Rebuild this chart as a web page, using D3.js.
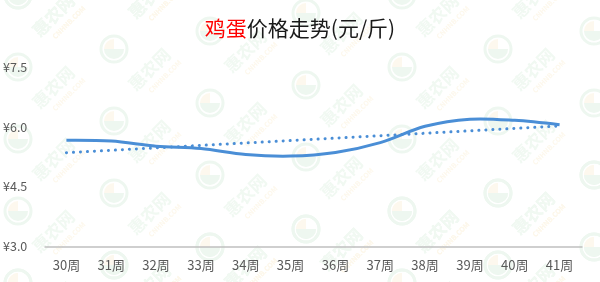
<!DOCTYPE html>
<html>
<head>
<meta charset="utf-8">
<script src="https://cdn.jsdelivr.net/npm/d3@7"></script>
<style>
  body { margin: 0; background: #fff; }
  svg { display: block; font-family: "Noto Sans CJK SC", "Noto Sans", sans-serif; }
</style>
</head>
<body>
<div id="chart"></div>
<script>
const width = 600, height = 282;

// weeks and egg prices (yuan / jin)
const weeks = ["30周", "31周", "32周", "33周", "34周", "35周", "36周", "37周", "38周", "39周", "40周", "41周"];
const prices = [5.68, 5.66, 5.53, 5.47, 5.32, 5.28, 5.37, 5.62, 6.03, 6.21, 6.18, 6.07];
const yTicks = [3.0, 4.5, 6.0, 7.5];

const svg = d3.select("#chart")
  .append("svg")
  .attr("width", width)
  .attr("height", height);

// faint site watermark, tiled over the whole picture like the source image
const wm = svg.append("g").attr("opacity", 0.5);
for (let c = -1; c < 8; c++) {
  for (let r = -1; r < 6; r++) {
    const x = 18 + 96 * c;
    const y = ((35 - 18 * c + 72 * r) % 360 + 360) % 360 - 40;
    const logo = wm.append("g").attr("transform", `translate(${x},${y})`);
    logo.append("circle").attr("r", 13).attr("fill", "none").attr("stroke", "#dcefe0").attr("stroke-width", 3);
    logo.append("path").attr("d", d3.arc()({innerRadius: 0, outerRadius: 10, startAngle: Math.PI / 2, endAngle: Math.PI * 1.5})).attr("fill", "#dcefe0");
    logo.append("path").attr("d", d3.arc()({innerRadius: 0, outerRadius: 10, startAngle: -Math.PI / 2, endAngle: 0})).attr("fill", "#fbf1dc");
    const t = wm.append("g").attr("transform", `translate(${x + 40},${y + 25}) rotate(-45)`);
    t.append("text").attr("text-anchor", "middle").attr("font-size", 17).attr("font-weight", "bold").attr("fill", "#e2f2e5").text("惠农网");
    t.append("text").attr("y", 12).attr("x", 6).attr("text-anchor", "middle").attr("font-size", 7).attr("font-weight", "bold").attr("fill", "#fbf0d8").text("CNHNB.COM");
  }
}

const xScale = d3.scaleBand()
  .domain(weeks)
  .range([44, 582]);

const yScale = d3.scaleLinear()
  .domain([3, 7.5])
  .range([246.5, 68]);

// title
const title = svg.append("text")
  .attr("x", 300)
  .attr("y", 36)
  .attr("text-anchor", "middle")
  .attr("font-size", 21)
  .attr("fill", "#1a1a1a");
title.append("tspan").attr("fill", "#ff0000").text("鸡蛋");
title.append("tspan").text("价格走势(元/斤)");

// y labels
svg.append("g")
  .selectAll("text")
  .data(yTicks)
  .enter()
  .append("text")
    .attr("x", 3)
    .attr("y", d => yScale(d))
    .attr("dy", "0.35em")
    .attr("font-size", 12.5)
    .attr("fill", "#595959")
    .text(d => "¥" + d.toFixed(1));

// x axis
const xAxis = svg.append("g")
  .attr("transform", `translate(0,${yScale(3)})`)
  .call(d3.axisBottom(xScale).tickSize(0).tickPadding(14));
xAxis.select(".domain").attr("stroke", "#bfbfbf").attr("stroke-width", 1.5);
xAxis.selectAll("text")
  .attr("font-size", 13)
  .attr("fill", "#595959")
  .attr("font-family", "\"Noto Sans CJK SC\", sans-serif");

const cx = (d, i) => xScale(weeks[i]) + xScale.bandwidth() / 2;

// linear trend
const n = prices.length;
const mx = (n - 1) / 2;
const my = d3.mean(prices);
const slope = d3.sum(prices, (p, i) => (i - mx) * (p - my)) / d3.sum(prices, (p, i) => (i - mx) * (i - mx));
const trend = [0, n - 1].map(i => ({i: i, v: my + slope * (i - mx)}));

svg.append("path")
  .datum(trend)
  .attr("fill", "none")
  .attr("stroke", "#4a8ed6")
  .attr("stroke-width", 3)
  .attr("stroke-linecap", "round")
  .attr("stroke-dasharray", "0.1 6.9")
  .attr("d", d3.line().x(d => xScale(weeks[d.i]) + xScale.bandwidth() / 2).y(d => yScale(d.v)));

// price line
svg.append("path")
  .datum(prices)
  .attr("fill", "none")
  .attr("stroke", "#4a8ed6")
  .attr("stroke-width", 3)
  .attr("stroke-linejoin", "round")
  .attr("d", d3.line().x(cx).y(d => yScale(d)).curve(d3.curveCatmullRom.alpha(0.5)));
</script>
</body>
</html>
